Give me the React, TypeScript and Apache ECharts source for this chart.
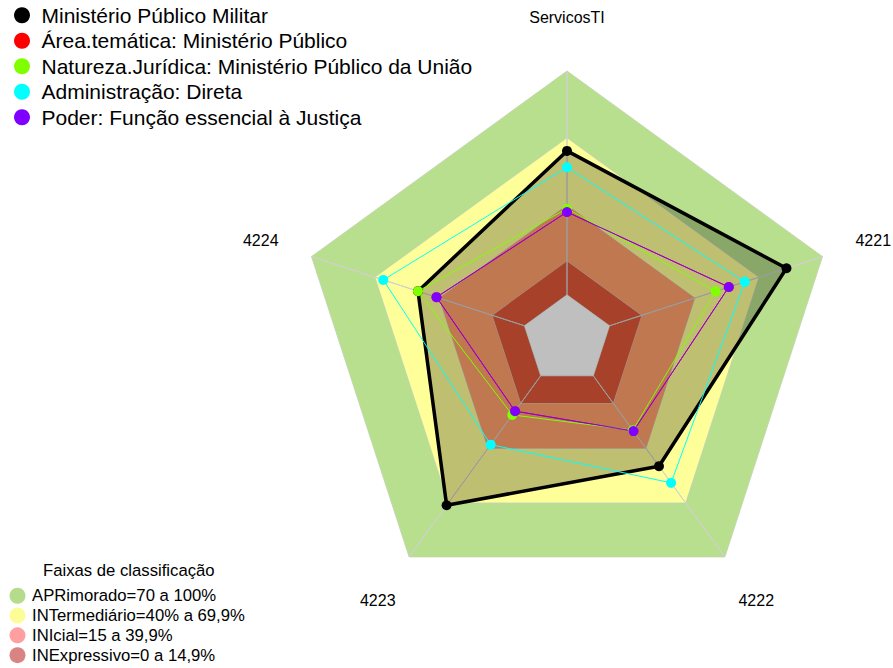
import React, { useEffect, useRef } from 'react';
import * as echarts from 'echarts';

// ---- data ----
const categories = ['ServicosTI', '4221', '4222', '4223', '4224'];
const seriesNames = [
  'Ministério Público Militar',
  'Área.temática: Ministério Público',
  'Natureza.Jurídica: Ministério Público da União',
  'Administração: Direta',
  'Poder: Função essencial à Justiça',
];
const seriesColors = ['#000000', '#ff0000', '#80ff00', '#00ffff', '#8000ff'];
const mpmValues = [64.3, 83.1, 49.9, 71.5, 50];
const areaTematicaValues = [37, 56, 30.5, 19.5, 41.3];
const naturezaValues = [38.5, 49.8, 30, 21.6, 50];
const administracaoValues = [57, 63.5, 59.1, 38, 66.3];
const poderValues = [37, 56, 30.5, 19.5, 41.3];

const bandTitle = 'Faixas de classificação';
const bandNames = [
  'APRimorado=70 a 100%',
  'INTermediário=40% a 69,9%',
  'INIcial=15 a 39,9%',
  'INExpressivo=0 a 14,9%',
];
const bandUpper = [100, 70, 40, 15];
const centerValue = 0;
const axisMin = -20;
const axisMax = 100;

// ---- styles / layout ----
const bandFill = ['#b8df8e', '#ffff99', '#ffa06b', '#e05739'];
const bandLegendColors = ['#b5dc8a', '#fdfd98', '#ff9f9f', '#d98383'];
const CX = 567;
const CY = 339.6;
const R = 268.6;
const LABEL_R = 322;
const FONT = 'Liberation Sans, Arial, sans-serif';

// radar lays indicators counter-clockwise from the top; categories are clockwise
const order = [0, 4, 3, 2, 1];
const toRadar = (arr: number[]) => order.map((i) => arr[i]);

export default function App() {
  const ref = useRef<HTMLDivElement>(null);
  useEffect(() => {
    if (!ref.current) return;
    const chart = echarts.init(ref.current, null, { renderer: 'svg' });

    const indicator = order.map((i) => ({ name: categories[i], min: axisMin, max: axisMax }));
    const n = categories.length;
    const lineColor = '#d0d0d0';

    const bandSeries = bandNames.map((name, k) => ({
      type: 'radar',
      name,
      silent: true,
      symbol: 'none',
      itemStyle: { color: bandLegendColors[k] },
      lineStyle: { color: lineColor, width: 1 },
      areaStyle: { color: bandFill[k], opacity: 1 },
      data: [{ value: categories.map(() => bandUpper[k]), name }],
    }));

    const spokes = {
      type: 'radar',
      name: 'spokes',
      silent: true,
      symbol: 'none',
      lineStyle: { color: lineColor, width: 1 },
      data: categories.map((_, k) => ({
        value: categories.map((__, j) => (j === k ? axisMax : axisMin)),
      })),
    };

    const centerSeries = {
      type: 'radar',
      name: 'center',
      silent: true,
      symbol: 'none',
      lineStyle: { color: lineColor, width: 1 },
      areaStyle: { color: '#ffffff', opacity: 1 },
      data: [{ value: categories.map(() => centerValue) }],
    };

    const valueSets = [mpmValues, areaTematicaValues, naturezaValues, administracaoValues, poderValues];
    const dataSeries = valueSets.map((vals, k) => ({
      type: 'radar',
      name: seriesNames[k],
      symbol: 'circle',
      symbolSize: 10,
      itemStyle: { color: seriesColors[k] },
      lineStyle: { color: seriesColors[k], width: k === 0 ? 3.5 : 1 },
      areaStyle: k === 0 ? { color: 'rgba(0,0,0,0.25)', opacity: 1 } : undefined,
      data: [{ value: toRadar(vals), name: seriesNames[k] }],
    }));

    const labels = categories.map((c, i) => {
      const a = ((90 - i * (360 / n)) * Math.PI) / 180;
      return {
        type: 'text',
        x: CX + LABEL_R * Math.cos(a),
        y: CY - LABEL_R * Math.sin(a),
        style: {
          text: c,
          fill: '#000',
          font: `16px ${FONT}`,
          textAlign: 'center',
          textVerticalAlign: 'middle',
        },
      };
    });

    chart.setOption({
      animation: false,
      textStyle: { fontFamily: FONT },
      radar: {
        center: [CX, CY],
        radius: R,
        shape: 'polygon',
        startAngle: 90,
        splitNumber: 6,
        indicator,
        axisName: { show: false },
        axisLine: { show: false },
        splitLine: { show: false },
        splitArea: { show: false },
        axisTick: { show: false },
        axisLabel: { show: false },
      },
      title: {
        text: bandTitle,
        left: 43,
        top: 562,
        padding: 0,
        textStyle: { fontSize: 16.7, fontWeight: 'normal', color: '#000', fontFamily: FONT, lineHeight: 16 },
      },
      legend: [
        {
          orient: 'vertical',
          left: 14,
          top: 4.8,
          padding: 0,
          itemWidth: 29,
          itemHeight: 16,
          itemGap: 4.5,
          icon: 'circle',
          selectedMode: false,
          textStyle: { fontSize: 21, color: '#000', fontFamily: FONT, lineHeight: 21 },
          data: seriesNames.map((name, k) => ({ name, itemStyle: { color: seriesColors[k] } })),
        },
        {
          orient: 'vertical',
          left: 9.5,
          top: 587,
          padding: 0,
          itemWidth: 19,
          itemHeight: 16,
          itemGap: 2.3,
          icon: 'circle',
          selectedMode: false,
          textStyle: { fontSize: 16.7, color: '#000', fontFamily: FONT, lineHeight: 17.5 },
          data: bandNames.map((name, k) => ({ name, itemStyle: { color: bandLegendColors[k] } })),
        },
      ],
      graphic: labels,
      series: [...bandSeries, spokes, centerSeries, ...dataSeries],
    });
    return () => chart.dispose();
  }, []);
  return <div ref={ref} style={{ position: 'absolute', left: 0, top: 0, width: 893, height: 668 }} />;
}
